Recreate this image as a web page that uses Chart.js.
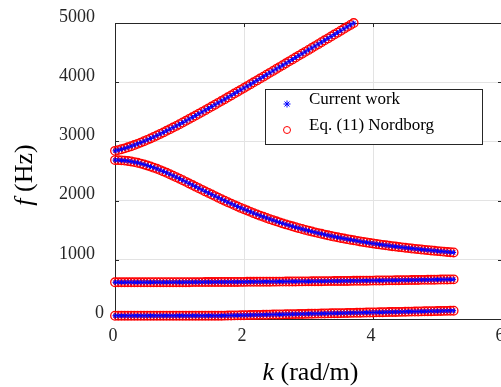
<!DOCTYPE html>
<html>
<head>
<meta charset="utf-8">
<script src="https://cdn.jsdelivr.net/npm/chart.js@4.4.0/dist/chart.umd.min.js"></script>
<style>
  html, body { margin: 0; padding: 0; background: #fff; overflow: hidden; }
  #area { width: 530px; height: 387px; }
</style>
</head>
<body>
<div id="area"><canvas id="grafico" width="530" height="387"></canvas></div>
<script>
// número de onda k (rad/m)
const kValores = [
  0, 0.05, 0.1, 0.15, 0.2, 0.25, 0.3, 0.35, 0.4, 0.45,
  0.5, 0.55, 0.6, 0.65, 0.7, 0.75, 0.8, 0.85, 0.9, 0.95,
  1, 1.05, 1.1, 1.15, 1.2, 1.25, 1.3, 1.35, 1.4, 1.45,
  1.5, 1.55, 1.6, 1.65, 1.7, 1.75, 1.8, 1.85, 1.9, 1.95,
  2, 2.05, 2.1, 2.15, 2.2, 2.25, 2.3, 2.35, 2.4, 2.45,
  2.5, 2.55, 2.6, 2.65, 2.7, 2.75, 2.8, 2.85, 2.9, 2.95,
  3, 3.05, 3.1, 3.15, 3.2, 3.25, 3.3, 3.35, 3.4, 3.45,
  3.5, 3.55, 3.6, 3.65, 3.7, 3.75, 3.8, 3.85, 3.9, 3.95,
  4, 4.05, 4.1, 4.15, 4.2, 4.25, 4.3, 4.35, 4.4, 4.45,
  4.5, 4.55, 4.6, 4.65, 4.7, 4.75, 4.8, 4.85, 4.9, 4.95,
  5, 5.05, 5.1, 5.15, 5.2, 5.25
];

// frequências (Hz) de cada ramo da curva de dispersão
const ramo1 = [
  2840, 2853, 2867, 2883, 2900, 2919, 2938, 2959, 2980, 3003,
  3026, 3050, 3075, 3100, 3126, 3152, 3179, 3206, 3234, 3262,
  3290, 3319, 3348, 3378, 3407, 3437, 3467, 3497, 3528, 3558,
  3589, 3620, 3651, 3682, 3713, 3745, 3776, 3808, 3839, 3871,
  3903, 3934, 3966, 3998, 4030, 4062, 4094, 4126, 4158, 4191,
  4223, 4255, 4287, 4319, 4352, 4384, 4416, 4449, 4481, 4513,
  4546, 4578, 4610, 4643, 4675, 4708, 4740, 4772, 4805, 4837,
  4870, 4902, 4935, 4967, 4999
];
const ramo2 = [
  2684, 2683, 2680, 2676, 2669, 2661, 2650, 2639, 2625, 2610,
  2594, 2576, 2557, 2537, 2515, 2493, 2470, 2446, 2421, 2396,
  2370, 2344, 2317, 2290, 2263, 2236, 2209, 2182, 2155, 2129,
  2102, 2076, 2050, 2024, 1998, 1973, 1949, 1924, 1900, 1877,
  1854, 1832, 1810, 1788, 1767, 1746, 1726, 1707, 1687, 1669,
  1650, 1633, 1615, 1598, 1582, 1566, 1550, 1535, 1520, 1505,
  1491, 1478, 1464, 1451, 1439, 1426, 1414, 1403, 1391, 1380,
  1369, 1359, 1349, 1339, 1329, 1320, 1310, 1301, 1293, 1284,
  1276, 1268, 1260, 1252, 1245, 1238, 1230, 1224, 1217, 1210,
  1204, 1198, 1191, 1185, 1180, 1174, 1168, 1163, 1158, 1153,
  1147, 1143, 1138, 1133, 1128, 1124
];
const ramo3 = [
  620, 620, 620, 620, 620, 620, 620, 620, 620, 620,
  620, 621, 621, 621, 621, 621, 621, 621, 621, 622,
  622, 622, 622, 622, 623, 623, 623, 623, 624, 624,
  624, 624, 625, 625, 625, 626, 626, 626, 626, 627,
  627, 628, 628, 628, 629, 629, 630, 630, 630, 631,
  631, 632, 632, 633, 633, 634, 634, 635, 635, 636,
  636, 637, 637, 638, 638, 639, 640, 640, 641, 641,
  642, 643, 643, 644, 645, 645, 646, 647, 647, 648,
  649, 650, 650, 651, 652, 653, 653, 654, 655, 656,
  656, 657, 658, 659, 660, 661, 661, 662, 663, 664,
  665, 666, 667, 668, 669, 670
];
const ramo4 = [
  55, 55, 55, 55, 55, 55, 55, 55, 55, 55,
  55, 55, 55, 55, 55, 55, 55, 55, 55, 55,
  55, 55, 55, 55, 55, 55, 55, 55, 55, 55,
  55, 55, 55, 56, 57, 58, 60, 61, 62, 63,
  64, 65, 67, 68, 69, 70, 71, 72, 74, 75,
  76, 77, 78, 79, 81, 82, 83, 84, 85, 86,
  88, 89, 90, 91, 92, 93, 95, 96, 97, 98,
  99, 100, 102, 103, 104, 105, 106, 107, 109, 110,
  111, 112, 113, 114, 116, 117, 118, 119, 120, 121,
  123, 124, 125, 126, 127, 128, 130, 131, 132, 133,
  134, 135, 137, 138, 139, 140
];

const nomesSeries = ['Current work', 'Eq. (11) Nordborg'];
const ticksX = [0, 2, 4, 6];
const ticksY = [0, 1000, 2000, 3000, 4000, 5000];

const corEixo = '#262626';
const fonte = 'Liberation Serif, Times New Roman, serif';

function montarPontos() {
  const pontos = [];
  [ramo1, ramo2, ramo3, ramo4].forEach(ramo => {
    ramo.forEach((f, i) => pontos.push({ x: kValores[i], y: f }));
  });
  return pontos;
}

// caixa do eixo com marcas de escala para dentro
const moldura = {
  id: 'moldura',
  beforeDatasetsDraw(chart) {
    const { ctx, chartArea: a, scales: { x, y } } = chart;
    ctx.save();
    ctx.strokeStyle = corEixo;
    ctx.lineWidth = 1;
    ctx.beginPath();
    ctx.rect(a.left + 0.5, a.top + 0.5, a.right - a.left, a.bottom - a.top);
    x.ticks.forEach(t => {
      const px = Math.round(x.getPixelForValue(t.value)) + 0.5;
      ctx.moveTo(px, a.bottom); ctx.lineTo(px, a.bottom - 4);
      ctx.moveTo(px, a.top); ctx.lineTo(px, a.top + 4);
    });
    y.ticks.forEach(t => {
      const py = Math.round(y.getPixelForValue(t.value)) + 0.5;
      ctx.moveTo(a.left, py); ctx.lineTo(a.left + 4, py);
      ctx.moveTo(a.right, py); ctx.lineTo(a.right - 4, py);
    });
    ctx.stroke();
    ctx.restore();
  }
};

// legenda dentro da área do gráfico
const legendaCaixa = {
  id: 'legendaCaixa',
  afterDatasetsDraw(chart) {
    const { ctx, chartArea: a } = chart;
    const larg = 217, alt = 55;
    const x0 = a.right - 20 - larg, y0 = a.top + 66;
    ctx.save();
    ctx.fillStyle = '#fff';
    ctx.fillRect(x0 + 0.5, y0 + 0.5, larg, alt);
    ctx.strokeStyle = corEixo;
    ctx.lineWidth = 1;
    ctx.strokeRect(x0 + 0.5, y0 + 0.5, larg, alt);
    ctx.font = '17px ' + fonte;
    ctx.textBaseline = 'alphabetic';
    ctx.textAlign = 'left';
    chart.data.datasets.forEach((ds, i) => {
      const yy = y0 + 15 + i * 26;
      ctx.strokeStyle = ds.borderColor;
      ctx.fillStyle = 'rgba(0,0,0,0)';
      Chart.helpers.drawPoint(ctx, {
        pointStyle: ds.pointStyle, radius: 3.5, borderWidth: 1, rotation: 0
      }, x0 + 22, yy);
      ctx.fillStyle = '#000';
      ctx.fillText(ds.label, x0 + 44, yy);
    });
    ctx.restore();
  }
};

// títulos dos eixos com a variável em itálico
const titulos = {
  id: 'titulos',
  afterDraw(chart) {
    const { ctx, chartArea: a } = chart;
    const normal = '26px ' + fonte, italico = 'italic 26px ' + fonte;
    ctx.save();
    ctx.fillStyle = '#000';
    ctx.textBaseline = 'alphabetic';
    ctx.textAlign = 'left';

    function escrever(variavel, unidade, cx, cy) {
      ctx.font = italico;
      const w1 = ctx.measureText(variavel).width;
      ctx.font = normal;
      const w2 = ctx.measureText(unidade).width;
      const inicio = cx - (w1 + w2) / 2;
      ctx.font = italico;
      ctx.fillText(variavel, inicio, cy);
      ctx.font = normal;
      ctx.fillText(unidade, inicio + w1, cy);
    }

    escrever('k', ' (rad/m)', (a.left + a.right) / 2 + 2, 380);

    ctx.translate(32, (a.top + a.bottom) / 2 + 4);
    ctx.rotate(-Math.PI / 2);
    escrever('f', ' (Hz)', 0, 0);
    ctx.restore();
  }
};

const pontos = montarPontos();

new Chart(document.getElementById('grafico'), {
  type: 'scatter',
  data: {
    datasets: [
      {
        label: nomesSeries[0],
        data: pontos,
        pointStyle: 'star',
        pointRadius: 2.5,
        borderColor: '#0000ff',
        backgroundColor: 'rgba(0,0,0,0)',
        borderWidth: 1,
        clip: false
      },
      {
        label: nomesSeries[1],
        data: pontos,
        pointStyle: 'circle',
        pointRadius: 4.3,
        borderColor: '#ff0000',
        backgroundColor: 'rgba(0,0,0,0)',
        borderWidth: 1.3,
        clip: false
      }
    ]
  },
  options: {
    responsive: false,
    animation: false,
    devicePixelRatio: 1,
    events: [],
    layout: { padding: { left: 0, top: 23, right: 28, bottom: 0 } },
    plugins: {
      legend: { display: false },
      tooltip: { enabled: false }
    },
    scales: {
      x: {
        type: 'linear',
        min: 0,
        max: 6,
        afterBuildTicks: s => { s.ticks = ticksX.map(v => ({ value: v })); },
        afterFit: s => { s.height = 68; },
        grid: { color: '#e3e3e3', drawTicks: false },
        border: { display: false },
        ticks: {
          padding: 6,
          labelOffset: -2,
          maxRotation: 0,
          color: corEixo,
          font: { family: fonte, size: 18 }
        }
      },
      y: {
        type: 'linear',
        min: 0,
        max: 5000,
        afterBuildTicks: s => { s.ticks = ticksY.map(v => ({ value: v })); },
        afterFit: s => { s.width = 115; },
        grid: { color: '#e3e3e3', drawTicks: false },
        border: { display: false },
        ticks: {
          padding: 11,
          labelOffset: -6,
          color: corEixo,
          font: { family: fonte, size: 18 },
          callback: v => v === 0 ? '0' : v + '  '
        }
      }
    }
  },
  plugins: [moldura, legendaCaixa, titulos]
});
</script>
</body>
</html>
